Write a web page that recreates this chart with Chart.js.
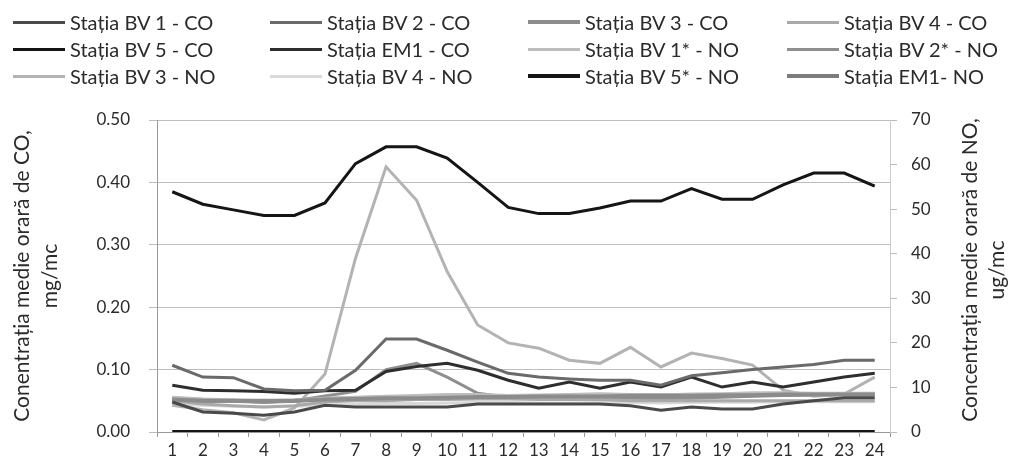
<!DOCTYPE html>
<html>
<head>
<meta charset="utf-8">
<script src="https://cdn.jsdelivr.net/npm/chart.js@4.4.1/dist/chart.umd.min.js"></script>
<style>
  body { margin: 0; background: #fff; }
  #wrap { position: relative; width: 1013px; height: 471px; }
  #chart { position: absolute; left: 0; top: 0; }
  #legend { position: absolute; left: 13px; top: 11px; display: grid; grid-template-columns: 257px 258px 259px 220px; row-gap: 5px;
    font-family: Lato, "Liberation Sans", sans-serif; font-size: 20px; color: #2b2b2b; }
  .item { display: flex; align-items: center; height: 22px; white-space: nowrap; }
  .swatch { width: 52px; margin-right: 5px; }
</style>
</head>
<body>
<div id="wrap">
  <canvas id="chart" width="1013" height="471"></canvas>
  <div id="legend"></div>
</div>
<script>
const hours = ["1","2","3","4","5","6","7","8","9","10","11","12","13","14","15","16","17","18","19","20","21","22","23","24"];

// CO, mg/mc (left axis)
const bv1CO = [0.048,0.032,0.030,0.027,0.032,0.043,0.040,0.040,0.040,0.040,0.045,0.045,0.045,0.045,0.045,0.042,0.035,0.040,0.037,0.037,0.045,0.050,0.055,0.055];
const bv2CO = [0.107,0.088,0.087,0.069,0.066,0.067,0.099,0.149,0.149,0.131,0.112,0.094,0.088,0.085,0.083,0.083,0.075,0.090,0.095,0.100,0.104,0.108,0.115,0.115];
const bv3CO = [0.052,0.050,0.050,0.050,0.050,0.052,0.053,0.054,0.054,0.055,0.056,0.056,0.057,0.057,0.057,0.058,0.058,0.058,0.059,0.059,0.060,0.060,0.060,0.060];
const bv4CO = [0.050,0.045,0.042,0.040,0.042,0.048,0.050,0.050,0.052,0.052,0.053,0.053,0.052,0.052,0.052,0.050,0.050,0.050,0.050,0.050,0.050,0.050,0.050,0.050];
const bv5CO = [0.385,0.365,0.356,0.347,0.347,0.367,0.430,0.457,0.457,0.439,0.400,0.360,0.350,0.350,0.359,0.370,0.370,0.390,0.373,0.373,0.396,0.415,0.415,0.394];
const em1CO = [0.075,0.067,0.066,0.065,0.062,0.066,0.067,0.097,0.105,0.110,0.099,0.083,0.070,0.080,0.070,0.080,0.072,0.088,0.072,0.080,0.072,0.080,0.088,0.094];

// NO, ug/mc (right axis)
const bv1NO = [7.8,7.4,7.2,7.0,7.2,7.6,7.8,8.0,8.2,8.4,8.4,8.2,8.3,8.4,8.6,8.4,8.3,8.5,8.6,8.8,8.8,8.7,8.7,8.7];
const bv2NO = [7.7,7.3,7.0,6.7,7.0,8.1,9.1,14.0,15.4,12.3,8.7,7.8,7.7,7.7,7.6,7.6,7.5,7.6,7.8,8.0,8.2,8.4,8.5,8.5];
const bv3NO = [6.0,5.0,4.3,2.7,5.4,13.0,39.0,59.5,52.0,36.0,24.0,20.0,18.8,16.1,15.4,19.0,14.6,17.7,16.5,15.0,9.4,8.0,8.5,12.3];
const bv4NO = [6.2,6.0,5.8,5.6,5.8,6.0,6.2,6.4,6.4,6.5,6.6,6.6,6.5,6.5,6.6,6.6,6.5,6.6,6.7,6.7,6.8,6.8,6.8,6.8];
const bv5NO = [0,0,0,0,0,0,0,0,0,0,0,0,0,0,0,0,0,0,0,0,0,0,0,0];
const em1NO = [7.2,7.0,7.0,6.8,7.0,7.4,7.6,7.8,7.8,8.0,8.0,8.1,8.1,8.1,8.2,8.2,8.2,8.3,8.3,8.4,8.4,8.4,8.5,8.5];

const leftTitle = ["Conentrația medie orară de CO,", "mg/mc"];
const rightTitle = ["Concentrația medie orară de NO,", "ug/mc"];

const FONT = 'Lato, "Liberation Sans", sans-serif';

function line(label, data, color, width, axis) {
  return { label: label, data: data, borderColor: color, backgroundColor: color,
    borderWidth: width, pointRadius: 0, tension: 0, yAxisID: axis };
}

const datasets = [
  line("Stația BV 1 - CO", bv1CO, "#4a4a4a", 3, "y"),
  line("Stația BV 2 - CO", bv2CO, "#6a6a6a", 3, "y"),
  line("Stația BV 3 - CO", bv3CO, "#8c8c8c", 4, "y"),
  line("Stația BV 4 - CO", bv4CO, "#a9a9a9", 3, "y"),
  line("Stația BV 5 - CO", bv5CO, "#151515", 3, "y"),
  line("Stația EM1 - CO", em1CO, "#2e2e2e", 3, "y"),
  line("Stația BV 1* - NO", bv1NO, "#bdbdbd", 3, "y1"),
  line("Stația BV 2* - NO", bv2NO, "#8f8f8f", 3, "y1"),
  line("Stația BV 3 - NO", bv3NO, "#b3b3b3", 3, "y1"),
  line("Stația BV 4 - NO", bv4NO, "#d9d9d9", 3, "y1"),
  line("Stația BV 5* - NO", bv5NO, "#151515", 4, "y1"),
  line("Stația EM1- NO", em1NO, "#7c7c7c", 4, "y1"),
];

// right title reads bottom-to-top, like the left one
const rightTitlePlugin = {
  id: "rightTitle",
  afterDraw(chart) {
    const ctx = chart.ctx;
    const area = chart.chartArea;
    const cy = (area.top + area.bottom) / 2 - 6;
    const xs = [970, 997];
    ctx.save();
    ctx.fillStyle = "#2b2b2b";
    ctx.font = "21px " + FONT;
    ctx.textAlign = "center";
    ctx.textBaseline = "middle";
    rightTitle.forEach((t, i) => {
      ctx.save();
      ctx.translate(xs[i], cy);
      ctx.rotate(-Math.PI / 2);
      ctx.fillText(t, 0, 0);
      ctx.restore();
    });
    ctx.restore();
  }
};

const chart = new Chart(document.getElementById("chart"), {
  type: "line",
  data: { labels: hours, datasets: datasets },
  options: {
    responsive: false,
    animation: false,
    layout: { padding: { top: 120, left: 0, right: 0, bottom: 0 } },
    plugins: { legend: { display: false }, tooltip: { enabled: false } },
    scales: {
      x: {
        offset: true,
        grid: { display: true, drawOnChartArea: false, drawTicks: true, tickLength: 5, offset: true, color: "#999" },
        border: { color: "#999" },
        ticks: { color: "#2b2b2b", font: { family: FONT, size: 17 }, padding: 3, maxRotation: 0, autoSkip: false },
        afterFit: (s) => { s.height = 39; }
      },
      y: {
        position: "left",
        min: 0, max: 0.5,
        ticks: { stepSize: 0.1, color: "#2b2b2b", font: { family: FONT, size: 17 }, padding: 19,
          callback: (v) => v.toFixed(2) },
        grid: { color: "#bdbdbd", tickLength: 8 },
        border: { color: "#999" },
        title: { display: true, text: leftTitle, color: "#2b2b2b",
          font: { family: FONT, size: 21, lineHeight: 1.3 }, padding: { top: 9, bottom: 0 } },
        afterFit: (s) => { s.width = 157; }
      },
      y1: {
        position: "right",
        min: 0, max: 70,
        ticks: { stepSize: 10, color: "#2b2b2b", font: { family: FONT, size: 17 }, padding: 14 },
        grid: { drawOnChartArea: false, tickLength: 7, color: "#bbb" },
        border: { color: "#ccc" },
        afterFit: (s) => { s.width = 123; }
      }
    }
  },
  plugins: [rightTitlePlugin]
});

// legend in four columns, built from the datasets
const legend = document.getElementById("legend");
chart.data.datasets.forEach((ds) => {
  const item = document.createElement("div");
  item.className = "item";
  const sw = document.createElement("div");
  sw.className = "swatch";
  sw.style.height = ds.borderWidth + "px";
  sw.style.background = ds.borderColor;
  const tx = document.createElement("span");
  tx.textContent = ds.label;
  item.appendChild(sw);
  item.appendChild(tx);
  legend.appendChild(item);
});
</script>
</body>
</html>
